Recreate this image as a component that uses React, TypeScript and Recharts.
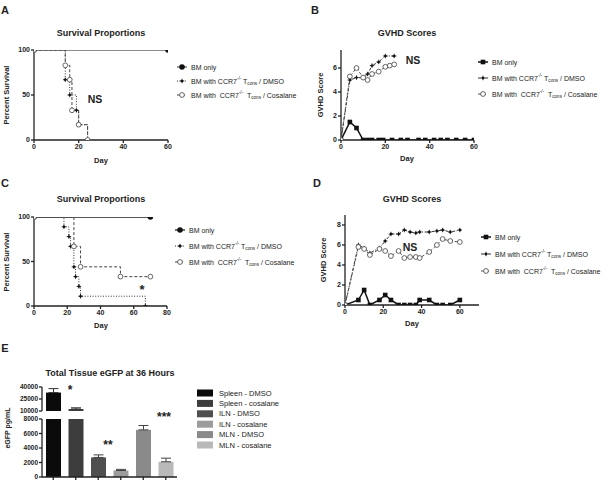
import React from "react";
import { Bar, BarChart, Cell, ErrorBar, Line, LineChart, XAxis, YAxis } from "recharts";

const FONT = '"Liberation Sans", Arial, Helvetica, sans-serif';
const INK = "#222";

// A: survival, first cohort (day, % alive)
const survA_bmDays = [0, 60];
const survA_bm = [100, 100];
const survA_dmsoDays = [0, 14, 16, 19, 20, 24];
const survA_dmso = [100, 67, 50, 33, 17, 0];
const survA_cosDays = [0, 14, 16, 17, 20, 24];
const survA_cos = [100, 83, 67, 33, 17, 0];

// B: GVHD scores, first cohort
const gvhdB_bmDays = [0, 4, 7, 10, 12, 14, 17, 19, 23, 27, 30, 35, 38, 42, 45, 48, 52, 56, 60];
const gvhdB_bm = [0, 1.5, 1, 0, 0, 0, 0, 0, 0, 0, 0, 0, 0, 0, 0, 0, 0, 0, 0];
const gvhdB_dmsoDays = [0, 4, 7, 10, 12, 14, 17, 20, 24];
const gvhdB_dmso = [0, 5.0, 5.2, 5.2, 5.5, 6.2, 6.5, 7.0, 7.0];
const gvhdB_cosDays = [0, 4, 7, 10, 12, 14, 17, 20, 22, 24];
const gvhdB_cos = [0, 5.3, 6.0, 5.2, 5.0, 5.5, 5.7, 6.1, 6.2, 6.3];

// C: survival, second cohort
const survC_bmDays = [0, 70];
const survC_bm = [100, 100];
const survC_dmsoDays = [0, 18, 21, 22, 24, 25, 27, 28, 67];
const survC_dmso = [100, 89, 78, 67, 44, 33, 22, 11, 0];
const survC_cosDays = [0, 24, 28, 52, 70];
const survC_cos = [100, 67, 44, 33, 33];

// D: GVHD scores, second cohort (same scoring days for all groups)
const gvhdD_days = [0, 7, 10, 13, 18, 21, 24, 28, 31, 34, 37, 39, 44, 48, 51, 55, 60];
const gvhdD_bm = [0, 0.5, 1.5, 0, 0.5, 1.0, 0.5, 0, 0, 0, 0, 0.5, 0.5, 0, 0, 0, 0.5];
const gvhdD_dmso = [0, 6.0, 5.7, 5.2, 5.7, 6.4, 7.1, 7.1, 7.5, 7.3, 7.2, 7.3, 7.3, 7.4, 7.5, 7.3, 7.5];
const gvhdD_cos = [0, 5.8, 5.6, 5.0, 5.6, 5.4, 4.9, 5.4, 4.7, 4.8, 4.8, 4.7, 5.3, 6.0, 6.6, 6.4, 6.3];

// E: tissue eGFP (pg/mL), mean and SEM
const tissues = ["Spleen - DMSO", "Spleen - cosalane", "ILN - DMSO", "ILN - cosalane", "MLN - DMSO", "MLN - cosalane"];
const egfpMean = [33000, 12500, 2700, 900, 6500, 2100];
const egfpSem = [5000, 1500, 350, 150, 600, 500];
const tissueColors = ["#0b0b0b", "#3d3d3d", "#4f4f4f", "#9c9c9c", "#8a8a8a", "#b9b9b9"];

const BREAK_LOW = 8000;
const BREAK_HIGH = 10000;

type Kind = "circle" | "square" | "star" | "open";

const rows = (days: number[], vals: number[]) => days.map((d, i) => ({ day: d, v: vals[i] }));

function Marker({ kind, cx, cy }: { kind: Kind; cx: number; cy: number }) {
  if (cx == null || cy == null) return null;
  if (kind === "circle") return <circle cx={cx} cy={cy} r={2.8} fill="#111" />;
  if (kind === "square") return <rect x={cx - 2.3} y={cy - 2.3} width={4.6} height={4.6} fill="#111" />;
  if (kind === "open") return <circle cx={cx} cy={cy} r={2.4} fill="#fff" stroke="#555" strokeWidth={0.9} />;
  return (
    <g>
      <path d={`M${cx - 2.2} ${cy}H${cx + 2.2}M${cx} ${cy - 2.2}V${cy + 2.2}`} stroke="#111" strokeWidth={0.9} />
      <circle cx={cx} cy={cy} r={1.2} fill="#111" />
    </g>
  );
}

type Series = {
  name: string;
  days: number[];
  values: number[];
  kind: Kind;
  stroke: string;
  width: number;
  dash?: string;
};

const tickStyle = { fontSize: 7, fill: INK, fontFamily: FONT, fontWeight: 700 };

function LinePanel(props: {
  left: number;
  top: number;
  width: number;
  height: number;
  margin: { top: number; right: number; bottom: number; left: number };
  yWidth: number;
  xDomain: [number, number];
  xTicks: number[];
  yDomain: [number, number];
  yTicks: number[];
  step: boolean;
  series: Series[];
}) {
  const { left, top, width, height, margin, yWidth, xDomain, xTicks, yDomain, yTicks, step, series } = props;
  return (
    <div style={{ position: "absolute", left, top }}>
      <LineChart width={width} height={height} margin={margin}>
        <XAxis
          type="number"
          dataKey="day"
          domain={xDomain}
          ticks={xTicks}
          allowDataOverflow
          height={30}
          stroke={INK}
          strokeWidth={1.3}
          tickSize={3}
          tickMargin={1}
          tick={tickStyle}
        />
        <YAxis
          type="number"
          domain={yDomain}
          ticks={yTicks}
          allowDataOverflow
          width={yWidth}
          stroke={INK}
          strokeWidth={1.3}
          tickSize={3}
          tickMargin={1}
          tick={tickStyle}
        />
        {series.map((s) => (
          <Line
            key={s.name}
            name={s.name}
            data={rows(s.days, s.values)}
            dataKey="v"
            type={step ? "stepAfter" : "linear"}
            stroke={s.stroke}
            strokeWidth={s.width}
            strokeDasharray={s.dash}
            dot={(p: any) => <Marker key={`${s.name}-${p.index}`} kind={s.kind} cx={p.cx} cy={p.cy} />}
            activeDot={false}
            isAnimationActive={false}
          />
        ))}
      </LineChart>
    </div>
  );
}

const survSeries = (bmDays: number[], bm: number[], dDays: number[], d: number[], cDays: number[], c: number[], bmStroke: string): Series[] => [
  { name: "BM only", days: bmDays, values: bm, kind: "circle", stroke: bmStroke, width: 1.3 },
  { name: "DMSO", days: dDays, values: d, kind: "star", stroke: "#333", width: 1, dash: "1 1.6" },
  { name: "Cosalane", days: cDays, values: c, kind: "open", stroke: "#444", width: 1, dash: "3 2" },
];

const gvhdSeries = (bmDays: number[], bm: number[], dDays: number[], d: number[], cDays: number[], c: number[]): Series[] => [
  { name: "BM only", days: bmDays, values: bm, kind: "square", stroke: "#111", width: 1.5 },
  { name: "DMSO", days: dDays, values: d, kind: "star", stroke: "#333", width: 1, dash: "3 1.5 1 1.5" },
  { name: "Cosalane", days: cDays, values: c, kind: "open", stroke: "#555", width: 1, dash: "3 2" },
];

function Txt(p: { x: number; y: number; size: number; bold?: boolean; anchor?: "start" | "middle" | "end"; rotate?: boolean; children: React.ReactNode }) {
  const t = p.rotate ? `translate(${p.x},${p.y}) rotate(-90)` : undefined;
  return (
    <text
      x={p.rotate ? 0 : p.x}
      y={p.rotate ? 0 : p.y}
      transform={t}
      fontSize={p.size}
      fontWeight={p.bold ? 700 : 400}
      fontFamily={FONT}
      fill={INK}
      textAnchor={p.anchor ?? "middle"}
      dominantBaseline="central"
    >
      {p.children}
    </text>
  );
}

function TconsLabel({ x, y, tail, gap }: { x: number; y: number; tail: string; gap?: boolean }) {
  return (
    <text x={x} y={y} fontSize={7} fontFamily={FONT} fill={INK} dominantBaseline="central">
      {gap ? "BM with\u00a0 CCR7" : "BM with CCR7"}
      <tspan dy={-2.6} fontSize={4.6}>-/-</tspan>
      <tspan dy={2.6}>{gap ? "\u00a0 T" : " T"}</tspan>
      <tspan dy={1.8} fontSize={4.6}>cons</tspan>
      <tspan dy={-1.8}>{` / ${tail}`}</tspan>
    </text>
  );
}

function LegendBlock({ x, y, step, series }: { x: number; y: number; step: number; series: Series[] }) {
  return (
    <g>
      {series.map((s, i) => {
        const yy = y + i * step;
        return (
          <g key={s.name}>
            <line x1={x} x2={x + 10} y1={yy} y2={yy} stroke={s.stroke} strokeWidth={s.width} strokeDasharray={s.dash} />
            <Marker kind={s.kind} cx={x + 5} cy={yy} />
            {i === 0 ? (
              <Txt x={x + 14} y={yy} size={7} anchor="start">BM only</Txt>
            ) : (
              <TconsLabel x={x + 14} y={yy} tail={i === 1 ? "DMSO" : "Cosalane"} gap={i === 2} />
            )}
          </g>
        );
      })}
    </g>
  );
}

const serA = survSeries(survA_bmDays, survA_bm, survA_dmsoDays, survA_dmso, survA_cosDays, survA_cos, "#666");
const serB = gvhdSeries(gvhdB_bmDays, gvhdB_bm, gvhdB_dmsoDays, gvhdB_dmso, gvhdB_cosDays, gvhdB_cos);
const serC = survSeries(survC_bmDays, survC_bm, survC_dmsoDays, survC_dmso, survC_cosDays, survC_cos, "#222");
const serD = gvhdSeries(gvhdD_days, gvhdD_bm, gvhdD_days, gvhdD_dmso, gvhdD_days, gvhdD_cos);

// broken y axis: upper segment shows values above the break, lower one is capped at it
const upperRows = tissues.map((t, i) => ({
  tissue: t,
  v: egfpMean[i] > BREAK_HIGH ? egfpMean[i] : null,
  err: egfpMean[i] > BREAK_HIGH ? [0, egfpSem[i]] : null,
}));
const lowerRows = tissues.map((t, i) => ({
  tissue: t,
  v: egfpMean[i],
  err: egfpMean[i] < BREAK_LOW ? [0, egfpSem[i]] : null,
}));

const eTick = { fontSize: 6.5, fill: INK, fontFamily: FONT, fontWeight: 700 };

function TissueBars() {
  return (
    <>
      <div style={{ position: "absolute", left: 0, top: 380 }}>
        <BarChart width={190} height={35} data={upperRows} margin={{ top: 7, right: 13, bottom: 4, left: 0 }} barSize={15}>
          <XAxis dataKey="tissue" hide />
          <YAxis
            type="number"
            domain={[BREAK_HIGH, 40000]}
            ticks={[10000, 25000, 40000]}
            allowDataOverflow
            width={42}
            stroke={INK}
            strokeWidth={1.3}
            tickSize={3}
            tickMargin={1}
            tick={eTick}
          />
          <Bar dataKey="v" isAnimationActive={false}>
            {upperRows.map((r, i) => (
              <Cell key={r.tissue} fill={tissueColors[i]} />
            ))}
            <ErrorBar dataKey="err" width={5} strokeWidth={1} stroke="#333" direction="y" />
          </Bar>
        </BarChart>
      </div>
      <div style={{ position: "absolute", left: 0, top: 412 }}>
        <BarChart width={190} height={70} data={lowerRows} margin={{ top: 7, right: 13, bottom: 0, left: 0 }} barSize={15}>
          <XAxis
            dataKey="tissue"
            height={5}
            stroke={INK}
            strokeWidth={1.3}
            tickSize={3}
            tickFormatter={() => ""}
          />
          <YAxis
            type="number"
            domain={[0, BREAK_LOW]}
            ticks={[0, 2000, 4000, 6000, 8000]}
            allowDataOverflow
            width={42}
            stroke={INK}
            strokeWidth={1.3}
            tickSize={3}
            tickMargin={1}
            tick={eTick}
          />
          <Bar dataKey="v" isAnimationActive={false}>
            {lowerRows.map((r, i) => (
              <Cell key={r.tissue} fill={tissueColors[i]} />
            ))}
            <ErrorBar dataKey="err" width={5} strokeWidth={1} stroke="#444" direction="y" />
          </Bar>
        </BarChart>
      </div>
    </>
  );
}

export default function App() {
  return (
    <div style={{ position: "fixed", left: 0, top: 0, width: 609, height: 481, background: "#fff", overflow: "hidden" }}>
      <LinePanel
        left={0}
        top={40}
        width={180}
        height={130}
        margin={{ top: 10, right: 12, bottom: 0, left: 0 }}
        yWidth={34}
        xDomain={[0, 60]}
        xTicks={[0, 20, 40, 60]}
        yDomain={[0, 100]}
        yTicks={[0, 50, 100]}
        step
        series={serA}
      />
      <LinePanel
        left={300}
        top={40}
        width={180}
        height={130}
        margin={{ top: 10, right: 6, bottom: 0, left: 0 }}
        yWidth={41}
        xDomain={[0, 60]}
        xTicks={[0, 20, 40, 60]}
        yDomain={[0, 7.5]}
        yTicks={[0, 2, 4, 6]}
        step={false}
        series={serB}
      />
      <LinePanel
        left={0}
        top={207}
        width={180}
        height={130}
        margin={{ top: 10, right: 13, bottom: 1, left: 0 }}
        yWidth={34}
        xDomain={[0, 80]}
        xTicks={[0, 20, 40, 60, 80]}
        yDomain={[0, 100]}
        yTicks={[0, 50, 100]}
        step
        series={serC}
      />
      <LinePanel
        left={300}
        top={205}
        width={190}
        height={130}
        margin={{ top: 10, right: 11, bottom: 0, left: 0 }}
        yWidth={45}
        xDomain={[0, 70]}
        xTicks={[0, 20, 40, 60]}
        yDomain={[0, 9]}
        yTicks={[0, 2, 4, 6, 8]}
        step={false}
        series={serD}
      />
      <TissueBars />

      <svg width={609} height={481} style={{ position: "absolute", left: 0, top: 0, pointerEvents: "none" }}>
        {/* panel letters */}
        <Txt x={5} y={10} size={11} bold>A</Txt>
        <Txt x={315} y={10} size={11} bold>B</Txt>
        <Txt x={5} y={183} size={11} bold>C</Txt>
        <Txt x={317} y={183} size={11} bold>D</Txt>
        <Txt x={5} y={348} size={11} bold>E</Txt>

        {/* titles */}
        <Txt x={101} y={33} size={9} bold>Survival Proportions</Txt>
        <Txt x={407} y={33} size={9} bold>GVHD Scores</Txt>
        <Txt x={101} y={199} size={9} bold>Survival Proportions</Txt>
        <Txt x={412} y={199} size={9} bold>GVHD Scores</Txt>
        <Txt x={110} y={373} size={9} bold>Total Tissue eGFP at 36 Hours</Txt>

        {/* axis titles */}
        <Txt x={6} y={95} size={7.5} bold rotate>Percent Survival</Txt>
        <Txt x={101} y={160} size={7.5} bold>Day</Txt>
        <Txt x={320} y={95} size={7.5} bold rotate>GVHD Score</Txt>
        <Txt x={407} y={158} size={7.5} bold>Day</Txt>
        <Txt x={6} y={262} size={7.5} bold rotate>Percent Survival</Txt>
        <Txt x={101} y={325} size={7.5} bold>Day</Txt>
        <Txt x={323} y={260} size={7.5} bold rotate>GVHD Score</Txt>
        <Txt x={412} y={323} size={7.5} bold>Day</Txt>
        <Txt x={7} y={428} size={7} bold rotate>eGFP  pg/mL</Txt>

        {/* significance marks */}
        <Txt x={95} y={99} size={10.5} bold>NS</Txt>
        <Txt x={413} y={60} size={10.5} bold>NS</Txt>
        <Txt x={410} y={247} size={10.5} bold>NS</Txt>
        <Txt x={142} y={289} size={13} bold>*</Txt>
        <Txt x={70} y={390} size={12} bold>*</Txt>
        <Txt x={108} y={445} size={12} bold>**</Txt>
        <Txt x={164} y={417} size={12} bold>***</Txt>

        {/* legends */}
        <LegendBlock x={177} y={67} step={14} series={serA} />
        <LegendBlock x={478} y={62} step={16} series={serB} />
        <LegendBlock x={175} y={230} step={16} series={serC} />
        <LegendBlock x={481} y={237} step={17} series={serD} />
        {tissues.map((t, i) => (
          <g key={t}>
            <rect x={197} y={389.5 + i * 10.4} width={16} height={7} fill={tissueColors[i]} />
            <Txt x={219} y={393 + i * 10.4} size={7.5} anchor="start">{t}</Txt>
          </g>
        ))}
      </svg>
    </div>
  );
}
